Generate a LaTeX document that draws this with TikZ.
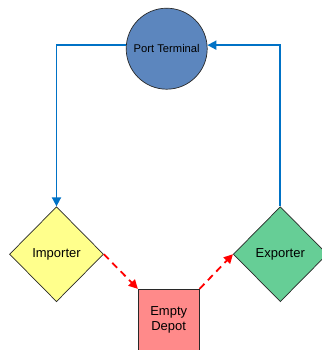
\documentclass[tikz,border=0pt]{standalone}
\usepackage{fontspec}
\setmainfont{Liberation Sans}
\usetikzlibrary{shapes.geometric,arrows.meta}
\definecolor{portblue}{RGB}{92,134,190}
\definecolor{impyellow}{RGB}{255,255,140}
\definecolor{expgreen}{RGB}{102,206,150}
\definecolor{depotpink}{RGB}{255,138,138}
\definecolor{flowblue}{RGB}{0,114,198}
\definecolor{edgegray}{RGB}{40,40,40}
\tikzset{
  party/.style={diamond, draw=edgegray, line width=0.7pt, inner sep=0pt,
    minimum width=94pt, minimum height=95pt, font=\fontsize{13}{15}\selectfont},
  flow/.style={draw=flowblue, line width=1.8pt,
    -{Triangle[length=9pt,width=9pt]}},
  emptyflow/.style={draw=red, line width=1.8pt, dash pattern=on 7pt off 5pt,
    -{Triangle[length=9pt,width=9pt]}},
}
\begin{document}
\begin{tikzpicture}[x=1pt,y=-1pt]
  \useasboundingbox (0,0) rectangle (321,350);
  % terminal
  \node (pt) [circle, draw=edgegray, line width=0.7pt, fill=portblue,
    minimum size=81pt, inner sep=0pt, font=\fontsize{11.2}{13}\selectfont]
    at (166.7,48.7) {Port Terminal};
  % trading parties
  \node (imp) [party, fill=impyellow] at (56.5,254.2) {Importer};
  \node (exp) [party, fill=expgreen] at (280.3,254.2) {Exporter};
  % depot
  \node (dep) [draw=edgegray, line width=0.7pt, fill=depotpink,
    minimum width=61pt, minimum height=61pt, inner sep=0pt,
    align=center, font=\fontsize{13}{15.5}\selectfont]
    at (168.7,319.7) {Empty\\Depot};
  % full container flows
  \draw[flow] (pt.175) -| (imp.north);
  \draw[flow] (exp.north) |- (pt.5);
  % empty container flows
  \draw[emptyflow] (imp.east) -- (dep.north west);
  \draw[emptyflow] (dep.north east) -- (exp.west);
\end{tikzpicture}
\end{document}
